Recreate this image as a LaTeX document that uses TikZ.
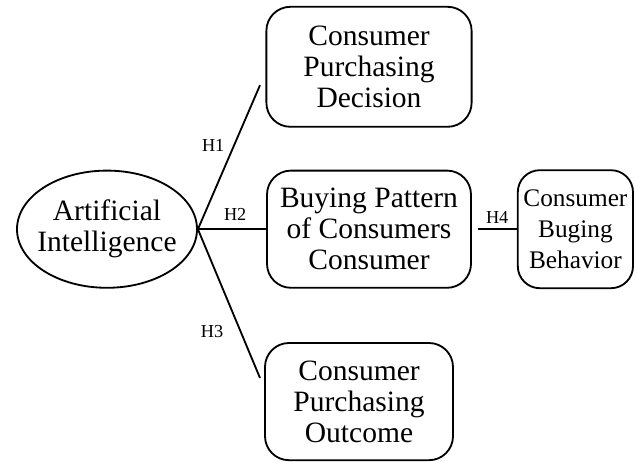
\documentclass[tikz,border=0pt]{standalone}
\usepackage{fontspec}
\setmainfont{Liberation Serif}
\usepackage{tikz}
\usetikzlibrary{shapes.geometric, positioning}

\begin{document}
\begin{tikzpicture}[node distance=2cm]
    \tikzstyle{construct} = [ellipse, minimum width=4.5cm, minimum height=2.93cm, inner xsep=-0.2cm, inner ysep=0pt, text centered, align=center, draw=black, line width=1.3pt, font=\fontsize{21}{22}\selectfont]
    \tikzstyle{factor} = [rectangle, rounded corners=0.6cm, minimum width=5.1cm, minimum height=2.93cm, inner sep=0pt, text centered, align=center, draw=black, line width=1.3pt, font=\fontsize{21}{22}\selectfont]
    \tikzstyle{smallfactor} = [factor, minimum width=2.88cm, minimum height=2.95cm, rounded corners=0.55cm, font=\fontsize{18}{22}\selectfont]
    \tikzstyle{link} = [line width=1.3pt]
    \tikzstyle{hyp} = [font=\fontsize{13}{14}\selectfont]

    \useasboundingbox (0,0) rectangle (15.9,-11.55);

    \node (ai) [construct] at (2.675,-5.73) {Artificial\\Intelligence};
    \node (pattern) [factor] at (9.225,-5.73) {Buying Pattern\\of Consumers\\Consumer};
    \node (decision) [factor, above of=pattern, yshift=2.06cm, minimum width=5.13cm, minimum height=3cm] {Consumer\\Purchasing\\Decision};
    \node (outcome) [factor, below of=pattern, xshift=-0.25cm, yshift=-2.31cm, minimum width=4.7cm] {Consumer\\Purchasing\\Outcome};
    \node (behavior) [smallfactor, right of=pattern, xshift=3.16cm] {Consumer\\Buging\\Behavior};

    \coordinate (h1end) at (6.5,-2.13);
    \coordinate (h3end) at (6.5,-9.45);

    \draw [link] (ai.east) -- (h1end);
    \draw [link] (ai.east) -- (pattern.west);
    \draw [link] (ai.east) -- (h3end);
    \draw [link, shorten <=0.15cm] (pattern.east) -- (behavior.west);

    \node (h1) [hyp] at (5.33,-3.63) {H1};
    \node (h2) [hyp] at (5.88,-5.35) {H2};
    \node (h3) [hyp] at (5.3,-8.3) {H3};
    \node (h4) [hyp] at (12.43,-5.43) {H4};
\end{tikzpicture}
\end{document}
